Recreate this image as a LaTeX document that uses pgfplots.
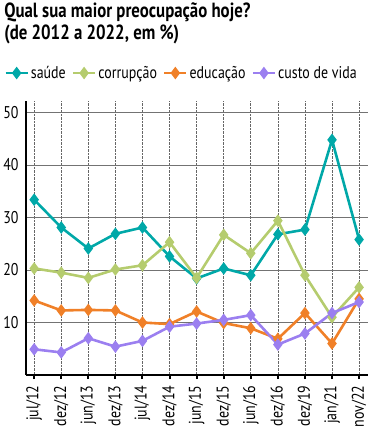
\documentclass[border=0pt]{standalone}
\usepackage{pgfplots}
\pgfplotsset{compat=1.18}
\usepackage{fontspec}
\setmainfont{PT Sans}[FakeStretch=0.82]
\definecolor{saude}{RGB}{0,168,168}
\definecolor{corr}{RGB}{181,204,110}
\definecolor{educ}{RGB}{240,128,40}
\definecolor{custo}{RGB}{155,127,240}
\begin{document}
\begin{tikzpicture}
\begin{axis}[
  scale only axis, width=342bp, height=274bp,
  anchor=south west, at={(0,0)},
  xmin=-0.3, xmax=12.33, ymin=0, ymax=52.2,
  axis x line=bottom, axis y line=left,
  axis line style={-, black, line width=1.2bp},
  xtick={0,...,12},
  xticklabels={jul/12,dez/12,jun/13,dez/13,jul/14,dez/14,jun/15,dez/15,jun/16,dez/16,dez/19,jan/21,nov/22},
  xticklabel style={rotate=90, anchor=east, font=\fontsize{17bp}{19bp}\selectfont},
  yticklabel style={font=\fontsize{17bp}{19bp}\selectfont},
  ytick={10,20,30,40,50},
  /pgf/number format/assume math mode=true,
  xmajorgrids, ymajorgrids,
  x grid style={densely dotted, black!60, line width=0.6bp},
  y grid style={black!55, line width=1bp},
  tick align=outside,
  major tick length=4bp,
  xtick style={black, line width=2bp},
  ytick style={draw=none},
  xticklabel shift=3bp,
  legend columns=4,
  legend style={at={(rel axis cs:-0.064,1.102)}, anchor=west, draw=none, fill=none,
    font=\fontsize{17bp}{19bp}\selectfont, inner sep=0pt,
    /tikz/every even column/.append style={column sep=4bp}},
  legend image code/.code={\draw[mark repeat=2,mark phase=2] plot coordinates {(0bp,0bp)(11bp,0bp)(22bp,0bp)};},
  every axis plot/.append style={line width=2.6bp, mark=diamond*, mark size=4.2bp},
  clip=false,
]
\addplot[color=saude, mark options={fill=saude}] coordinates {(0,33.4)(1,28.1)(2,24.1)(3,26.9)(4,28.1)(5,22.6)(6,18.4)(7,20.3)(8,19.0)(9,26.8)(10,27.7)(11,44.8)(12,25.8)};
\addlegendentry{saúde}
\addplot[color=corr, mark options={fill=corr}] coordinates {(0,20.3)(1,19.5)(2,18.5)(3,20.1)(4,20.9)(5,25.3)(6,18.5)(7,26.7)(8,23.2)(9,29.4)(10,19.0)(11,11.0)(12,16.7)};
\addlegendentry{corrupção}
\addplot[color=educ, mark options={fill=educ}] coordinates {(0,14.2)(1,12.3)(2,12.4)(3,12.3)(4,10.0)(5,9.7)(6,12.1)(7,9.9)(8,8.9)(9,6.9)(10,11.8)(11,6.0)(12,14.5)};
\addlegendentry{educação}
\addplot[color=custo, mark options={fill=custo}] coordinates {(0,4.9)(1,4.3)(2,7.0)(3,5.4)(4,6.5)(5,9.2)(6,9.8)(7,10.5)(8,11.4)(9,5.8)(10,7.9)(11,11.8)(12,13.9)};
\addlegendentry{custo de vida}
\node[anchor=north west, align=left, inner sep=0pt, font=\fontsize{20.5bp}{22.5bp}\selectfont\bfseries]
  at (rel axis cs:-0.064,1.36) {Qual sua maior preocupação hoje?\\(de 2012 a 2022, em \%)};
\end{axis}
\path (-21bp,-73bp) rectangle (346bp,375bp);
\end{tikzpicture}
\end{document}
